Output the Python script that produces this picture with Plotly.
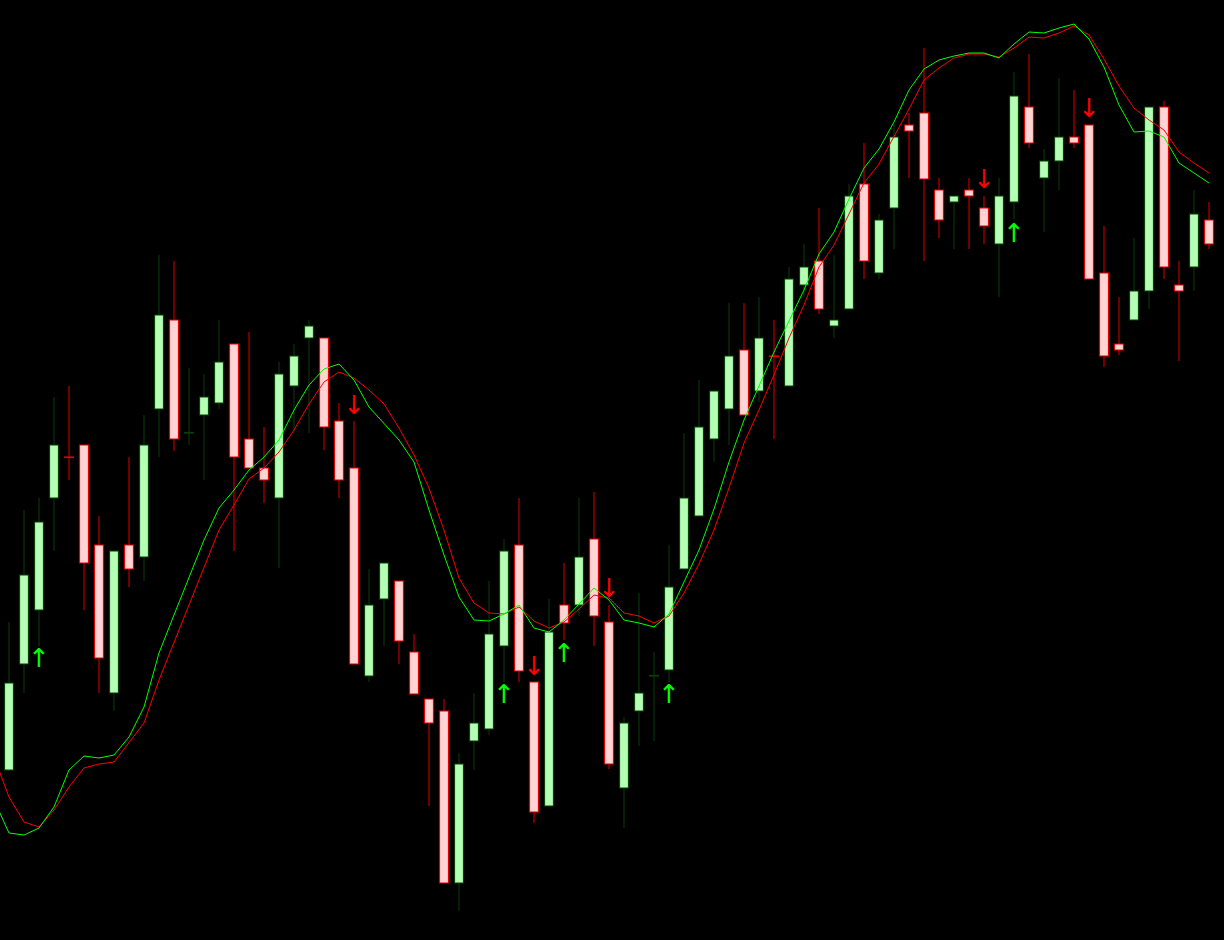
import plotly.graph_objects as go

# Candle index positions
idx = list(range(81))

open_ = [170, 276, 330, 442, 483, 495, 395, 247, 395, 383,
         531, 620, 507, 525, 537, 596, 501, 472, 442, 554,
         602, 602, 519, 472, 264, 341, 359, 288, 241, 229,
         57, 199, 211, 294, 395, 258, 134, 335, 335, 401,
         318, 152, 229, 264, 270, 371, 424, 501, 531, 590,
         549, 584, 554, 655, 679, 614, 631, 756, 667, 732,
         815, 827, 750, 738, 750, 732, 696, 738, 833, 762,
         779, 803, 815, 667, 596, 620, 649, 833, 655, 673,
         720]
high = [318, 430, 442, 543, 554, 495, 424, 389, 483, 525,
        685, 679, 572, 566, 620, 596, 608, 513, 578, 596,
        620, 602, 537, 519, 371, 377, 359, 306, 241, 241,
        187, 247, 359, 401, 442, 258, 341, 377, 442, 448,
        335, 223, 347, 288, 395, 507, 560, 549, 637, 637,
        643, 620, 673, 696, 732, 685, 756, 797, 726, 815,
        827, 892, 762, 744, 762, 744, 762, 868, 886, 791,
        862, 850, 815, 714, 643, 702, 833, 839, 679, 750,
        738]
low = [169, 247, 294, 389, 460, 330, 247, 229, 353, 359,
       483, 489, 495, 460, 531, 389, 472, 437, 372, 507,
       507, 490, 442, 276, 258, 294, 276, 246, 134, 57,
       29, 170, 205, 258, 258, 117, 134, 300, 324, 294,
       171, 112, 194, 199, 258, 371, 424, 478, 495, 525,
       538, 501, 554, 643, 626, 602, 631, 661, 661, 691,
       762, 679, 702, 691, 691, 696, 643, 721, 792, 708,
       750, 792, 661, 573, 585, 620, 631, 661, 579, 649,
       691]
close = [257, 365, 418, 495, 482.5, 377, 282, 389, 371, 495,
         625, 501, 507.5, 543, 578, 483, 472, 460, 566, 584,
         614, 513, 460, 276, 335, 377, 299, 246, 217, 57,
         176, 217, 306, 389, 269, 128, 308, 317, 383, 324,
         176, 217, 247, 264.5, 353, 442, 513, 549, 584, 525,
         602, 583.5, 661, 673, 631, 620, 744, 679, 720, 803,
         809, 761, 720, 744, 744, 714, 744, 844, 797, 779,
         803, 797, 661, 584, 590, 649, 833, 673, 649, 726,
         696]

# Moving averages (index -1 .. 80)
ma_idx = list(range(-1, 81))
ma_fast = [140, 107, 105, 112, 133, 170, 184, 182, 185, 203, 233,
           287, 325, 363, 400, 432, 450, 470, 483, 500, 530,
           555, 571, 576, 560, 533, 517, 500, 478, 430, 385,
           343, 320, 319, 326, 335, 312, 308, 320, 336, 352,
           340, 320, 317, 313, 326, 358, 390, 431, 478, 520,
           554, 588, 619, 650, 686, 708, 741, 772, 791, 818,
           850, 871, 880, 884, 887, 887, 882, 896, 908, 907,
           912, 916, 901, 873, 835, 808, 809, 803, 777, 767,
           757]
ma_slow = [183, 143, 118, 113, 130, 153, 172, 176, 178, 197, 217,
           260, 298, 335, 372, 410, 435, 461, 472, 488, 510,
           536, 558, 568, 562, 550, 536, 512, 485, 452, 410,
           362, 337, 327, 326, 333, 319, 312, 318, 331, 345,
           342, 327, 324, 317, 324, 347, 376, 410, 452, 497,
           530, 565, 602, 635, 673, 695, 726, 757, 776, 803,
           831, 860, 872, 882, 886, 886, 883, 892, 903, 902,
           907, 914, 905, 881, 854, 832, 820, 810, 788, 777,
           767]

# Signal arrows
up_idx = [2, 33, 37, 44, 67]
up_lvl = [280, 244, 285, 244, 705]
down_idx = [23, 35, 40, 65, 72]
down_lvl = [533, 272, 350, 759, 830]

BULL_LINE, BULL_FILL = "#0a3f0a", "#b4ffb4"
BEAR_LINE, BEAR_FILL = "#e00000", "#ffd4d4"

fig = go.Figure()

for is_bull, lc, fc in [(True, BULL_LINE, BULL_FILL), (False, BEAR_LINE, BEAR_FILL)]:
    sel = [i for i in idx if (close[i] > open_[i]) == is_bull]
    wx, wy = [], []
    for i in sel:
        lo_b, hi_b = min(open_[i], close[i]), max(open_[i], close[i])
        if low[i] < lo_b:
            wx += [i, i, None]
            wy += [low[i], lo_b, None]
        if high[i] > hi_b:
            wx += [i, i, None]
            wy += [hi_b, high[i], None]
    fig.add_trace(go.Scatter(x=wx, y=wy, mode="lines", line=dict(color=lc, width=1),
                             hoverinfo="skip", showlegend=False))
    fig.add_trace(go.Bar(
        x=sel,
        base=[min(open_[i], close[i]) for i in sel],
        y=[max(abs(close[i] - open_[i]), 0.01) for i in sel],
        width=0.6,
        marker=dict(color=fc, opacity=1, line=dict(color=lc, width=1.2)),
        hoverinfo="skip", showlegend=False,
    ))

fig.add_trace(go.Scatter(x=ma_idx, y=ma_slow, mode="lines",
                         line=dict(color="#ff0000", width=1), hoverinfo="skip", showlegend=False))
fig.add_trace(go.Scatter(x=ma_idx, y=ma_fast, mode="lines",
                         line=dict(color="#00ff00", width=1), hoverinfo="skip", showlegend=False))

fig.add_trace(go.Scatter(x=up_idx, y=up_lvl, mode="text", text=["↑"] * len(up_idx),
                         textposition="middle center",
                         textfont=dict(color="#00ff00", size=26, family="DejaVu Sans"),
                         hoverinfo="skip", showlegend=False))
fig.add_trace(go.Scatter(x=down_idx, y=down_lvl, mode="text", text=["↓"] * len(down_idx),
                         textposition="middle center",
                         textfont=dict(color="#ff0000", size=26, family="DejaVu Sans"),
                         hoverinfo="skip", showlegend=False))

fig.update_layout(
    width=1224, height=940,
    margin=dict(l=0, r=0, t=0, b=0),
    paper_bgcolor="black", plot_bgcolor="black",
    barmode="overlay",
    xaxis=dict(visible=False, range=[-0.6, 81.0], fixedrange=True),
    yaxis=dict(visible=False, range=[0, 940], fixedrange=True),
    showlegend=False,
)

fig.write_html("out.html", config={"displayModeBar": False},
               post_script="document.body.style.margin='0';document.body.style.background='black';document.body.style.overflow='hidden';")
